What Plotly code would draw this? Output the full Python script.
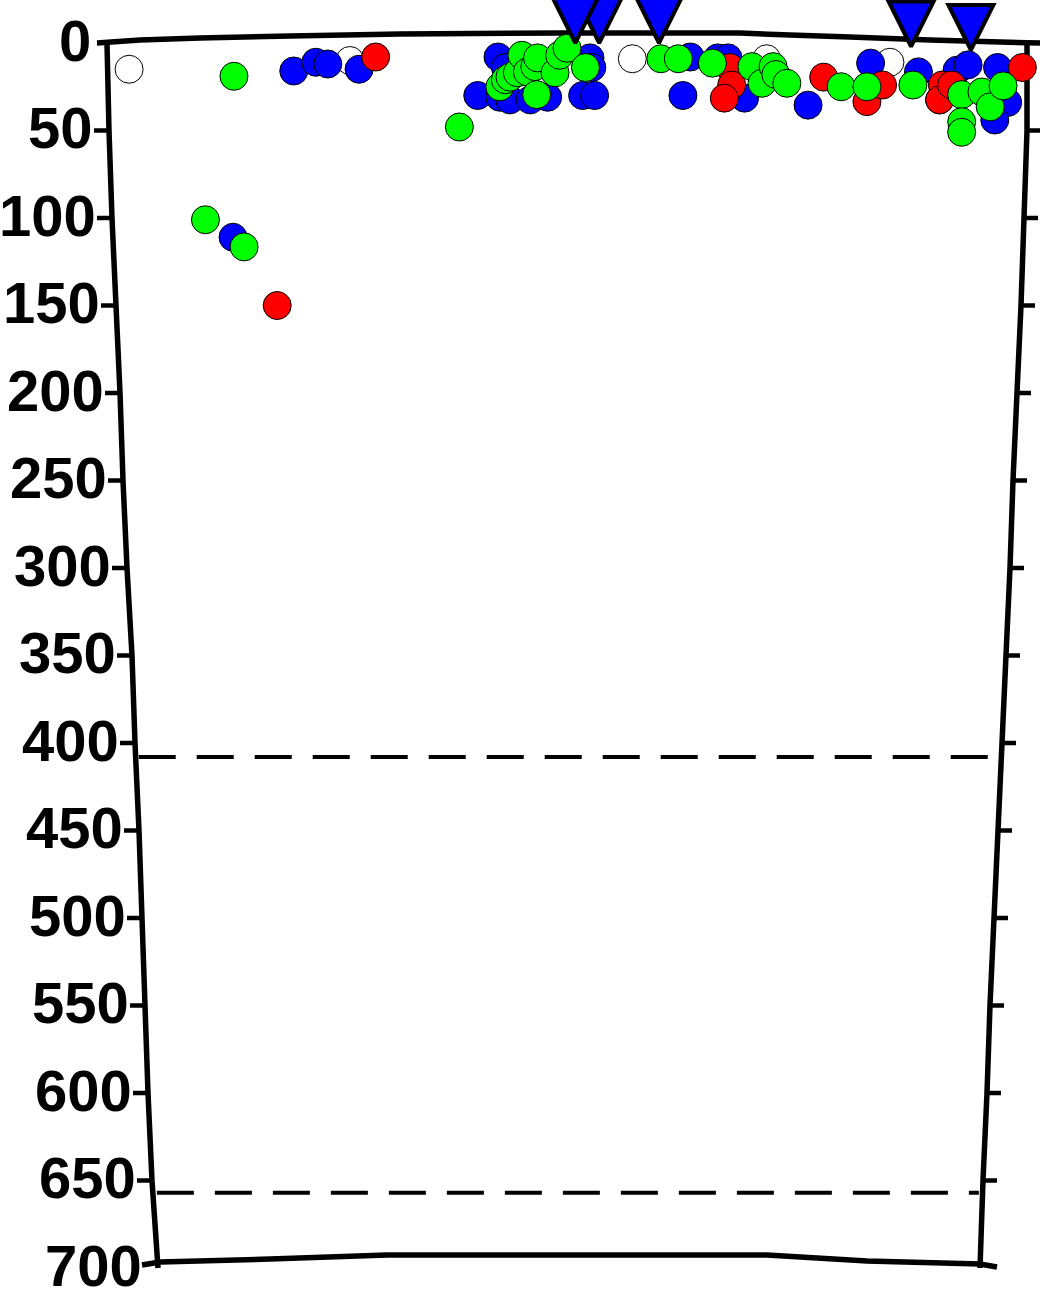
import plotly.graph_objects as go

# ---------------- data (x: arbitrary position 0-100, y: depth) ----------------
white_x = [2.4, 26.4, 57.1, 71.7, 85.1]
white_y = [15, 10, 9, 9, 11]

blue_x = [20.3, 22.7, 24.0, 27.4, 13.7, 42.5, 43.3, 40.3, 42.7, 43.8, 46.0, 47.9,
          51.7, 53.0, 52.5, 52.7, 62.6, 63.4, 66.4, 67.5, 69.3, 76.2, 83.0, 88.2,
          92.4, 93.6, 96.8, 97.9, 96.5, 90.5]
blue_y = [16, 11, 12, 15, 111, 8, 14, 30, 31, 32.5, 32.5, 31,
          30, 30, 8.5, 14, 30, 8, 8.5, 8.5, 31.5, 35.5, 11.5, 16.5,
          15.5, 12.5, 14, 34, 44, 32.5]

red_x = [29.2, 18.5, 67.7, 67.9, 67.1, 77.9, 82.6, 84.3, 90.8, 90.5, 91.8, 99.5]
red_y = [8, 150, 14, 24, 31.5, 19.5, 33.5, 24, 24, 32.5, 24, 14]

green_x = [13.8, 10.7, 14.9, 38.3, 42.7, 43.3, 43.8, 44.6, 45.1, 45.7, 46.5, 46.8,
           46.7, 48.7, 49.2, 50.0, 52.0, 60.2, 62.1, 65.8, 70.1, 71.2, 72.4, 72.7,
           73.9, 79.8, 82.6, 87.6, 92.9, 92.9, 92.9, 95.1, 96.0, 97.4]
green_y = [19, 101, 116.5, 48, 25, 21, 19.5, 17, 7, 16.5, 13.5, 8.5,
           29.5, 17, 7, 3, 14, 9, 9, 11.5, 13.5, 23, 13.5, 18,
           23, 25, 25, 24, 29.5, 45, 51, 28, 36.5, 24.5]

tri_x = [53.5, 50.9, 60.0, 87.4, 93.9]
tri_y = [0, 0, 0, 2, 4]

ref_depths = [408, 657]

tick_values = [0, 50, 100, 150, 200, 250, 300, 350, 400, 450, 500, 550, 600, 650, 700]
tick_labels = [str(v) for v in tick_values]

# ---------------- frame geometry (pixels of the drawn, skewed box) ----------------
L, T, W, H = 107, 43, 920, 1225
FIG_W, FIG_H = 1040, 1289
left_axis_px = [107, 109, 112, 116, 120, 123, 127, 132, 135, 139, 142, 145, 148, 152, 158]
right_axis_px = [1027, 1027, 1024, 1021, 1017, 1013, 1010, 1006, 1002, 998, 994, 990, 987, 983, 980]
top_line_px = [(97, 43), (140, 40), (200, 38), (290, 36), (400, 34), (560, 33), (740, 33),
               (790, 35), (850, 37), (930, 40), (1000, 42), (1040, 43)]
bottom_line_px = [(142, 1265), (160, 1262), (270, 1259), (387, 1255), (767, 1255),
                  (867, 1261), (980, 1264), (997, 1267)]


def PX(px):
    return (px - L) / W


def PYv(v):
    return 1 - v / 700


def PYp(py):
    return 1 - (py - T) / H


def path_paper(points):
    return "M " + " L ".join(f"{PX(px):.5f},{py:.5f}" for px, py in points)


fig = go.Figure()

circle_common = dict(mode="markers", cliponaxis=False, hoverinfo="skip", showlegend=False)
for xs, ys, col in [(white_x, white_y, "white"), (blue_x, blue_y, "#0000FF"),
                    (red_x, red_y, "#FF0000"), (green_x, green_y, "#00FF00")]:
    fig.add_trace(go.Scatter(x=xs, y=ys, marker=dict(size=28, color=col,
                                                     line=dict(color="black", width=1)), **circle_common))
fig.add_trace(go.Scatter(x=tri_x, y=tri_y, marker=dict(symbol="arrow-down", size=45, color="#0000FF",
                                                       line=dict(color="black", width=4)), **circle_common))

shapes = []
line_style = dict(color="black", width=5.5)
shapes.append(dict(type="path", xref="paper", yref="paper", layer="below", line=line_style,
                   path=path_paper([(px, PYv(v)) for px, v in zip(left_axis_px, tick_values)])))
shapes.append(dict(type="path", xref="paper", yref="paper", layer="below", line=line_style,
                   path=path_paper([(px, PYv(v)) for px, v in zip(right_axis_px, tick_values)])))
shapes.append(dict(type="path", xref="paper", yref="paper", layer="below", line=line_style,
                   path=path_paper([(px, PYp(py)) for px, py in top_line_px])))
shapes.append(dict(type="path", xref="paper", yref="paper", layer="below", line=line_style,
                   path=path_paper([(px, PYp(py)) for px, py in bottom_line_px])))
for v, lp, rp in zip(tick_values[1:-1], left_axis_px[1:-1], right_axis_px[1:-1]):
    shapes.append(dict(type="line", xref="paper", yref="paper", layer="below",
                       x0=PX(lp - 15), x1=PX(lp), y0=PYv(v), y1=PYv(v), line=dict(color="black", width=4.5)))
    shapes.append(dict(type="line", xref="paper", yref="paper", layer="below",
                       x0=PX(rp), x1=PX(rp + 14), y0=PYv(v), y1=PYv(v), line=dict(color="black", width=4.5)))
for d in ref_depths:
    lp = left_axis_px[0] + (left_axis_px[-1] - left_axis_px[0]) * d / 700
    rp = right_axis_px[0] + (right_axis_px[-1] - right_axis_px[0]) * d / 700
    shapes.append(dict(type="line", xref="paper", yref="y", layer="below",
                       x0=PX(lp + 2), x1=PX(rp - 4), y0=d, y1=d,
                       line=dict(color="black", width=4, dash="37px,21px")))

annotations = []
for v, lab, lp in zip(tick_values, tick_labels, left_axis_px):
    annotations.append(dict(x=PX(lp - 14), y=v, xref="paper", yref="y", text=lab,
                            showarrow=False, xanchor="right", yanchor="middle", yshift=3,
                            font=dict(family="Liberation Sans, Arial, sans-serif", size=58,
                                      color="black", weight="bold")))

fig.update_layout(
    width=FIG_W, height=FIG_H,
    margin=dict(l=L, r=FIG_W - L - W, t=T, b=FIG_H - T - H, pad=0),
    paper_bgcolor="white", plot_bgcolor="white",
    xaxis=dict(range=[0, 100], visible=False, showgrid=False, zeroline=False),
    yaxis=dict(range=[700, 0], visible=False, showgrid=False, zeroline=False),
    shapes=shapes, annotations=annotations, showlegend=False,
)

fig.write_html("out.html", config={"displayModeBar": False},
               post_script="document.body.style.margin='0px';document.body.style.overflow='hidden';")
